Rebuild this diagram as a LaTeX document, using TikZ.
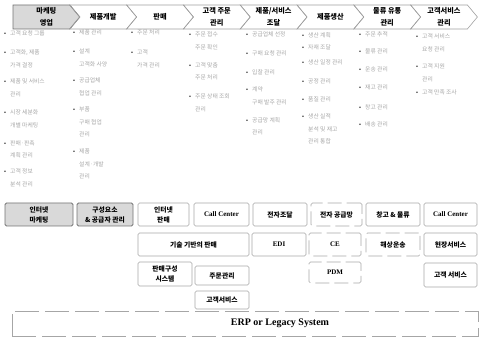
\documentclass[tikz,border=0pt]{standalone}
\usepackage{fontspec}
\setmainfont{Liberation Serif}
\newfontfamily\kr{Noto Sans CJK KR}
\newcommand\bulmark{\makebox[6pt][l]{\textcolor{black!85}{•}}}
\newcommand\bulind{\hspace*{6pt}}
\begin{document}
\begin{tikzpicture}[x=1pt,y=-1pt,
  chev/.style={draw=gray!75, line width=0.6pt, line join=miter},
  chevtxt/.style={font=\kr\bfseries\fontsize{7.2}{12.5}\selectfont, align=center, inner sep=0},
  bul/.style={anchor=north west, inner sep=0, align=left, font=\kr\fontsize{5.8}{12.5}\selectfont, text=gray!70},
  box/.style={draw=gray!70, line width=0.6pt, rounded corners=1.5pt, inner sep=0, align=center, font=\kr\bfseries\fontsize{6.8}{10}\selectfont},
  dbox/.style={box, dash pattern=on 14pt off 5pt},
  gbox/.style={box, fill=gray!30, draw=gray!90!black, line width=0.8pt},
  ltxt/.style={font=\bfseries\fontsize{7}{8}\selectfont}]
\useasboundingbox (0,0) rectangle (480,347);

% chevrons
\draw[chev, fill=gray!30, draw=gray!90!black, line width=0.8pt] (13,5) -- (69.8,5) -- (79.8,17) -- (69.8,29) -- (13,29) -- cycle;
\foreach \i in {1,...,7}{
  \pgfmathsetmacro\L{13+56.8*\i}
  \draw[chev] (\L,5) -- (\L+56.8,5) -- (\L+66.8,17) -- (\L+56.8,29) -- (\L,29) -- (\L+10,17) -- cycle;
}
\node[chevtxt] (h1) at (46.4,17) {마케팅\\영업};
\node[chevtxt] (h2) at (103.2,17) {제품개발};
\node[chevtxt] (h3) at (160,17) {판매};
\node[chevtxt] (h4) at (216.8,17) {고객 주문\\관리};
\node[chevtxt] (h5) at (273.6,17) {제품/서비스\\조달};
\node[chevtxt] (h6) at (330.4,17) {제품생산};
\node[chevtxt] (h7) at (387.2,17) {물류 유통\\관리};
\node[chevtxt] (h8) at (444,17) {고객서비스\\관리};

% column 1
\node[bul] (c1a) at (4,30) {\bulmark 고객 요청 그룹};
\node[bul] (c1b) at (4,50) {\bulmark 고객화, 제품\\\bulind 가격 결정};
\node[bul] (c1c) at (4,79) {\bulmark 제품 및 서비스\\\bulind 관리};
\node[bul] (c1d) at (4,110) {\bulmark 시장 세분화\\\bulind 개별 마케팅};
\node[bul] (c1e) at (4,140) {\bulmark 판매·판촉\\\bulind 계획 관리};
\node[bul] (c1f) at (4,169) {\bulmark 고객 정보\\\bulind 분석 관리};
% column 2
\node[bul] (c2a) at (73,30) {\bulmark 제품 관리};
\node[bul] (c2b) at (73,49) {\bulmark 설계\\\bulind 고객화 사양};
\node[bul] (c2c) at (73,78) {\bulmark 공급업체\\\bulind 협업 관리};
\node[bul] (c2d) at (73,107) {\bulmark 부품\\\bulind 구매 협업\\\bulind 관리};
\node[bul] (c2e) at (73,149) {\bulmark 제품\\\bulind 설계·개발\\\bulind 관리};
% column 3
\node[bul] (c3a) at (131,30) {\bulmark 주문 처리};
\node[bul] (c3b) at (131,50) {\bulmark 고객\\\bulind 가격 관리};
% column 4
\node[bul] (c4a) at (189,32) {\bulmark 주문 접수\\\bulind 주문 확인};
\node[bul] (c4b) at (189,62) {\bulmark 고객 맞춤\\\bulind 주문 처리};
\node[bul] (c4c) at (189,94) {\bulmark 주문 상태 조회\\\bulind 관리};
% column 5
\node[bul] (c5a) at (246,32) {\bulmark 공급업체 선정};
\node[bul] (c5b) at (246,50) {\bulmark 구매 요청 관리};
\node[bul] (c5c) at (246,69) {\bulmark 입찰 관리};
\node[bul] (c5d) at (246,87) {\bulmark 계약\\\bulind 구매 발주 관리};
\node[bul] (c5e) at (246,117) {\bulmark 공급망 계획\\\bulind 관리};
% column 6
\node[bul] (c6a) at (302,32) {\bulmark 생산 계획};
\node[bul] (c6b) at (302,45) {\bulmark 자재 조달};
\node[bul] (c6c) at (302,60) {\bulmark 생산 일정 관리};
\node[bul] (c6d) at (302,79) {\bulmark 공정 관리};
\node[bul] (c6e) at (302,97) {\bulmark 품질 관리};
\node[bul] (c6f) at (302,114) {\bulmark 생산 실적\\\bulind 분석 및 재고\\\bulind 관리 통합};
% column 7
\node[bul] (c7a) at (359,32) {\bulmark 주문 추적};
\node[bul] (c7b) at (359,49) {\bulmark 물류 관리};
\node[bul] (c7c) at (359,67) {\bulmark 운송 관리};
\node[bul] (c7d) at (359,85) {\bulmark 재고 관리};
\node[bul] (c7e) at (359,104) {\bulmark 창고 관리};
\node[bul] (c7f) at (359,122) {\bulmark 배송 관리};
% column 8
\node[bul] (c8a) at (416,34) {\bulmark 고객 서비스\\\bulind 요청 관리};
\node[bul] (c8b) at (416,64) {\bulmark 고객 지원\\\bulind 관리};
\node[bul] (c8c) at (416,90) {\bulmark 고객 만족 조사};

% row 1
\node[gbox, minimum width=68pt, minimum height=23pt] (b1) at (39,214.5) {인터넷\\마케팅};
\node[gbox, minimum width=56pt, minimum height=23pt] (b2) at (105,214.5) {구성요소\\\& 공급자 관리};
\node[box, minimum width=51pt, minimum height=23pt] (b3) at (163.5,214.5) {인터넷\\판매};
\node[box, ltxt, minimum width=55pt, minimum height=23pt] (b4) at (221.5,214.5) {Call Center};
\node[box, minimum width=54pt, minimum height=23pt] (b5) at (280,214.5) {전자조달};
\node[dbox, minimum width=51pt, minimum height=23pt] (b6) at (336.5,214.5) {전자 공급망};
\node[box, minimum width=54pt, minimum height=23pt] (b7) at (393,214.5) {창고 \& 물류};
\node[box, ltxt, minimum width=53pt, minimum height=23pt] (b8) at (450.5,214.5) {Call Center};
% row 2
\node[box, minimum width=111pt, minimum height=23pt] (r2a) at (193.5,244.5) {기술 기반의 판매};
\node[box, ltxt, minimum width=54pt, minimum height=23pt] (r2b) at (279,244.5) {EDI};
\node[dbox, ltxt, minimum width=52pt, minimum height=23pt] (r2c) at (335,244.5) {CE};
\node[dbox, minimum width=54pt, minimum height=23pt] (r2d) at (393,244.5) {해상운송};
\node[box, minimum width=53pt, minimum height=23pt] (r2e) at (450.5,244.5) {현장서비스};
% row 3
\node[box, minimum width=54pt, minimum height=24pt] (r3a) at (165,274) {판매구성\\시스템};
\node[box, minimum width=54pt, minimum height=19pt] (r3b) at (222,275.5) {주문관리};
\node[dbox, ltxt, minimum width=52pt, minimum height=21pt] (r3c) at (335,272.5) {PDM};
\node[box, minimum width=53pt, minimum height=24pt] (r3d) at (450.5,275) {고객 서비스};
% row 4
\node[box, minimum width=54pt, minimum height=18pt] (r4a) at (222,300) {고객서비스};
% ERP
\node[draw=gray!70, line width=0.6pt, dash pattern=on 24pt off 6pt, minimum width=466pt, minimum height=25pt, inner sep=0] (erp) at (245,323.5) {};
\node[font=\bfseries\fontsize{10}{12}\selectfont, inner sep=0] (erpt) at (280,323.5) {ERP or Legacy System};
\end{tikzpicture}
\end{document}
